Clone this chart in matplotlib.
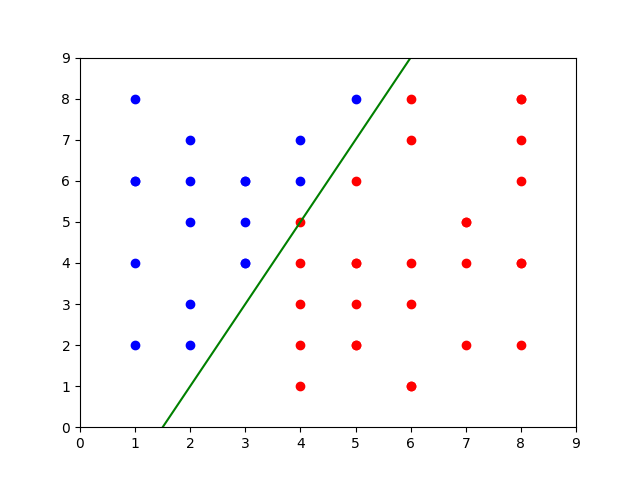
import numpy as np
import matplotlib
matplotlib.use("Agg")
import matplotlib.pyplot as plt

# ---- data: two classes of points and a separating line ----
blue_x = [1, 1, 1, 1, 2, 2, 2, 2, 2, 3, 3, 3, 4, 4, 5, 1, 3, 3]
blue_y = [8, 6, 4, 2, 7, 6, 5, 3, 2, 6, 5, 4, 7, 6, 8, 6, 6, 4]
red_x = [4, 4, 4, 4, 4, 5, 5, 5, 5, 6, 6, 6, 6, 6, 7, 7, 7, 8, 8, 8, 8, 8, 5, 5, 6, 7, 8, 8]
red_y = [5, 4, 3, 2, 1, 6, 4, 3, 2, 8, 7, 4, 3, 1, 5, 4, 2, 8, 7, 6, 4, 2, 4, 2, 1, 5, 8, 4]

# separating line y = w1*x + b
w1, b = 2.0, -3.0

fig, ax = plt.subplots(figsize=(6.4, 4.8), dpi=100)
ax.plot(blue_x, blue_y, "bo")
ax.plot(red_x, red_y, "ro")
xs = np.linspace(0, 9, 100)
ax.plot(xs, w1 * xs + b, "g-")
ax.set_xlim(0, 9)
ax.set_ylim(0, 9)
ax.set_xticks(range(10))
ax.set_yticks(range(10))
fig.savefig("out.png", dpi=100)
